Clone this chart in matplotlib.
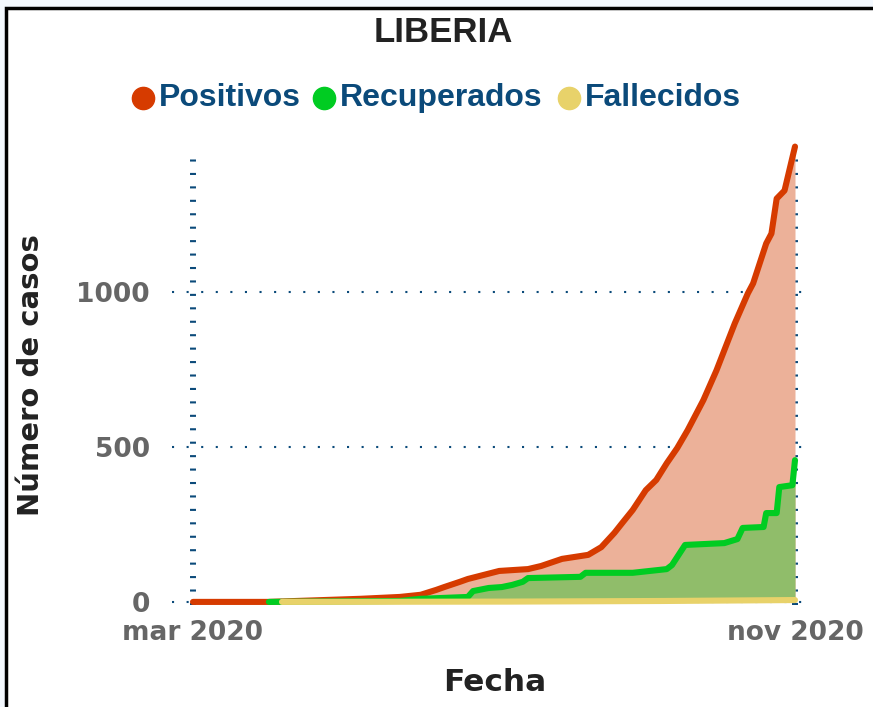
import matplotlib
matplotlib.use("Agg")
import matplotlib.pyplot as plt
from matplotlib.patches import Rectangle
from matplotlib.lines import Line2D

# days since first report, cumulative counts
dias_pos = [0, 29, 64, 79, 87, 93, 96, 102, 105, 111, 117, 128, 133, 141, 151, 156,
            161, 164, 168, 173, 177, 181, 185, 189, 195, 200, 204, 207, 212, 214,
            219, 221, 223, 226, 230]
positivos = [0, 0, 10, 16, 23, 39, 48, 65, 74, 87, 100, 106, 116, 139, 152, 177,
             223, 255, 297, 361, 394, 448, 497, 555, 652, 748, 835, 900, 997, 1029,
             1158, 1190, 1303, 1329, 1471]

dias_rec = [29, 79, 87, 105, 107, 113, 118, 122, 126, 128, 148, 150, 168, 181, 183,
            188, 203, 208, 210, 218, 219, 223, 224, 229, 230]
recuperados = [0, 3, 10, 16, 35, 45, 48, 55, 65, 77, 81, 94, 94, 106, 119,
               184, 190, 203, 239, 242, 287, 287, 371, 377, 458]

dias_fal = [34, 120, 180, 230]
fallecidos = [0, 1, 3, 6]

etiquetas_x = ["mar 2020", "nov 2020"]
ticks_y = [0, 500, 1000]

rojo = "#d63b00"
verde = "#00cc22"
amarillo = "#e8d26a"
azul = "#0b4a7a"
gris = "#666666"

fig = plt.figure(figsize=(8.73, 7.07), dpi=100, facecolor="#f3f8fe")
# white panel with black border
fig.add_artist(Rectangle((6 / 873, -0.1), 1.1, 1 - 8 / 707 + 0.1, transform=fig.transFigure,
                         facecolor="white", edgecolor="black", linewidth=2.5, zorder=0))

ax = fig.add_axes([193 / 873, 1 - 605 / 707, 602 / 873, 455 / 707])
ax.set_facecolor("none")

ax.fill_between(dias_pos, positivos, 0, color="#ecb199", linewidth=0, zorder=1)
ax.fill_between(dias_rec, recuperados, 0, color="#90bd6a", linewidth=0, zorder=2)
ax.plot(dias_pos, positivos, color=rojo, lw=4.4, solid_capstyle="round",
        solid_joinstyle="round", clip_on=False, zorder=3)
ax.plot(dias_rec, recuperados, color=verde, lw=4.4, solid_capstyle="round",
        solid_joinstyle="round", clip_on=False, zorder=4)
ax.plot(dias_fal, fallecidos, color=amarillo, lw=4.4, solid_capstyle="round",
        clip_on=False, zorder=5)

ax.set_xlim(0, 230)
ax.set_ylim(-10, 1460)

for s in ax.spines.values():
    s.set_visible(False)

# dotted grid, extending a bit beyond the plot area
for y in ticks_y:
    ax.axhline(y, xmin=-0.035, xmax=1.02, color=azul, lw=1.5, ls=(0, (1, 6)),
               clip_on=False, zorder=0.5)
for x in [0, 230]:
    ax.axvline(x, color=azul, lw=4.3, ls=(0, (0.35, 1.9)), clip_on=False, zorder=0.5)

ax.set_yticks(ticks_y)
ax.set_yticklabels([str(t) for t in ticks_y])
ax.set_xticks([0, 230])
ax.set_xticklabels(etiquetas_x)
ax.tick_params(length=0, colors=gris, labelsize=19)
ax.tick_params(axis="y", pad=31)
ax.tick_params(axis="x", pad=11)
for t in ax.get_xticklabels() + ax.get_yticklabels():
    t.set_fontweight("bold")

ax.set_xlabel("Fecha", fontsize=22.5, fontweight="bold", color="#222222")
ax.xaxis.set_label_coords(0.502, -0.138)
ax.set_ylabel("Número de casos", fontsize=21, fontweight="bold", color="#222222")
ax.yaxis.set_label_coords(-0.246, 0.505)

fig.text(443 / 873, 1 - 33 / 707, "LIBERIA", ha="center", va="center", fontsize=25,
         fontweight="bold", family="Liberation Sans", color="#222222")

# legend
ley = [("Positivos", rojo, 143), ("Recuperados", verde, 324), ("Fallecidos", amarillo, 569)]
for nombre, c, px in ley:
    fig.add_artist(Line2D([px / 873], [1 - 98 / 707], marker="o", markersize=16,
                          color=c, transform=fig.transFigure))
    fig.text((px + 16) / 873, 1 - 98 / 707, nombre, ha="left", va="center",
             fontsize=23, fontweight="bold", family="Liberation Sans", color=azul)

plt.savefig("out.png", dpi=100, facecolor=fig.get_facecolor())
